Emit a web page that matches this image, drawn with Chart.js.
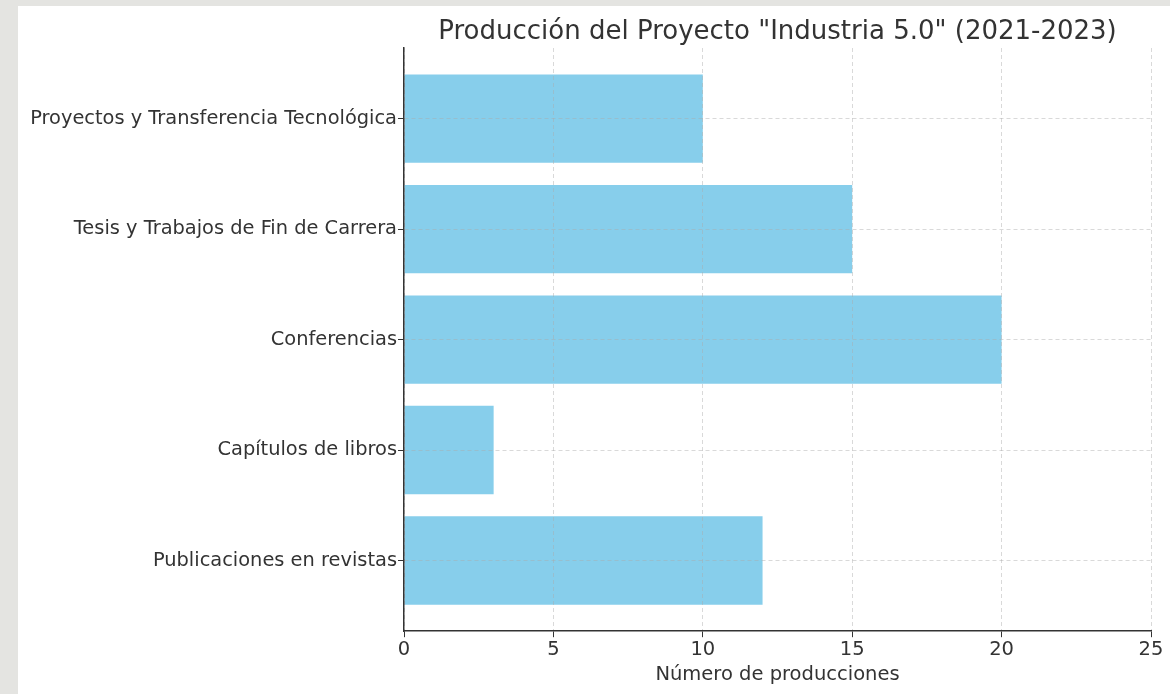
<!DOCTYPE html>
<html>
<head>
<meta charset="utf-8">
<script src="https://cdn.jsdelivr.net/npm/chart.js@4.4.0/dist/chart.umd.min.js"></script>
<style>
  html, body { margin: 0; padding: 0; }
  body { width: 1170px; height: 694px; background: #e4e4e1; position: relative; overflow: hidden; }
  #wrap { position: absolute; left: 18px; top: 6px; width: 1152px; height: 688px; background: #ffffff; }
</style>
</head>
<body>
<div id="wrap"><canvas id="c" width="1152" height="688"></canvas></div>
<script>
const chartTitle = 'Producción del Proyecto "Industria 5.0" (2021-2023)';
const categories = [
  'Publicaciones en revistas',
  'Capítulos de libros',
  'Conferencias',
  'Tesis y Trabajos de Fin de Carrera',
  'Proyectos y Transferencia Tecnológica'
];
const values = [12, 3, 20, 15, 10];
const xTicks = [0, 5, 10, 15, 20, 25];
const xLabel = 'Número de producciones';

const FONT = "'DejaVu Sans', sans-serif";
const TXT = '#333333';

const titlePlugin = {
  id: 'centeredTitle',
  afterDraw(chart) {
    const { ctx, chartArea } = chart;
    ctx.save();
    ctx.font = "26px " + FONT;
    ctx.fillStyle = TXT;
    ctx.textAlign = 'center';
    ctx.textBaseline = 'alphabetic';
    ctx.fillText(chartTitle, (chartArea.left + chartArea.right) / 2, 33);
    ctx.restore();
  }
};

new Chart(document.getElementById('c'), {
  type: 'bar',
  data: {
    datasets: [{
      data: values.map((v, i) => ({ x: v, y: i })),
      backgroundColor: '#87ceeb',
      borderWidth: 0,
      barPercentage: 0.8,
      categoryPercentage: 1.0
    }]
  },
  options: {
    indexAxis: 'y',
    responsive: false,
    animation: false,
    layout: { padding: { left: 0, right: 19, top: 42, bottom: 0 } },
    plugins: {
      legend: { display: false },
      tooltip: { enabled: false }
    },
    scales: {
      x: {
        type: 'linear',
        min: 0, max: 25,
        afterBuildTicks(scale) { scale.ticks = xTicks.map(v => ({ value: v })); },
        ticks: { color: TXT, font: { family: FONT, size: 19.5 }, padding: 1, maxRotation: 0, z: 2 },
        grid: { z: 1, color: 'rgba(170,170,170,0.45)', tickColor: '#333', tickLength: 6, tickBorderDash: [], lineWidth: 1 },
        border: { z: 2, display: true, color: '#333', width: 1.5, dash: [4, 3] },
        title: { display: true, text: xLabel, color: TXT, font: { family: FONT, size: 19.5 }, padding: { top: 1, bottom: 7 } }
      },
      y: {
        type: 'linear',
        min: -0.64, max: 4.64,
        offset: false,
        afterBuildTicks(scale) { scale.ticks = categories.map((c, i) => ({ value: i })); },
        afterFit(scale) { scale.width = 386; },
        ticks: {
          z: 2,
          color: TXT, font: { family: FONT, size: 19.4 }, padding: 1,
          callback: (v) => categories[v] !== undefined ? categories[v] : ''
        },
        grid: { z: 1, color: 'rgba(170,170,170,0.45)', tickColor: '#333', tickLength: 6, tickBorderDash: [], offset: false, lineWidth: 1 },
        border: { z: 2, display: true, color: '#333', width: 1.5, dash: [4, 3] }
      }
    }
  },
  plugins: [titlePlugin]
});
</script>
</body>
</html>
